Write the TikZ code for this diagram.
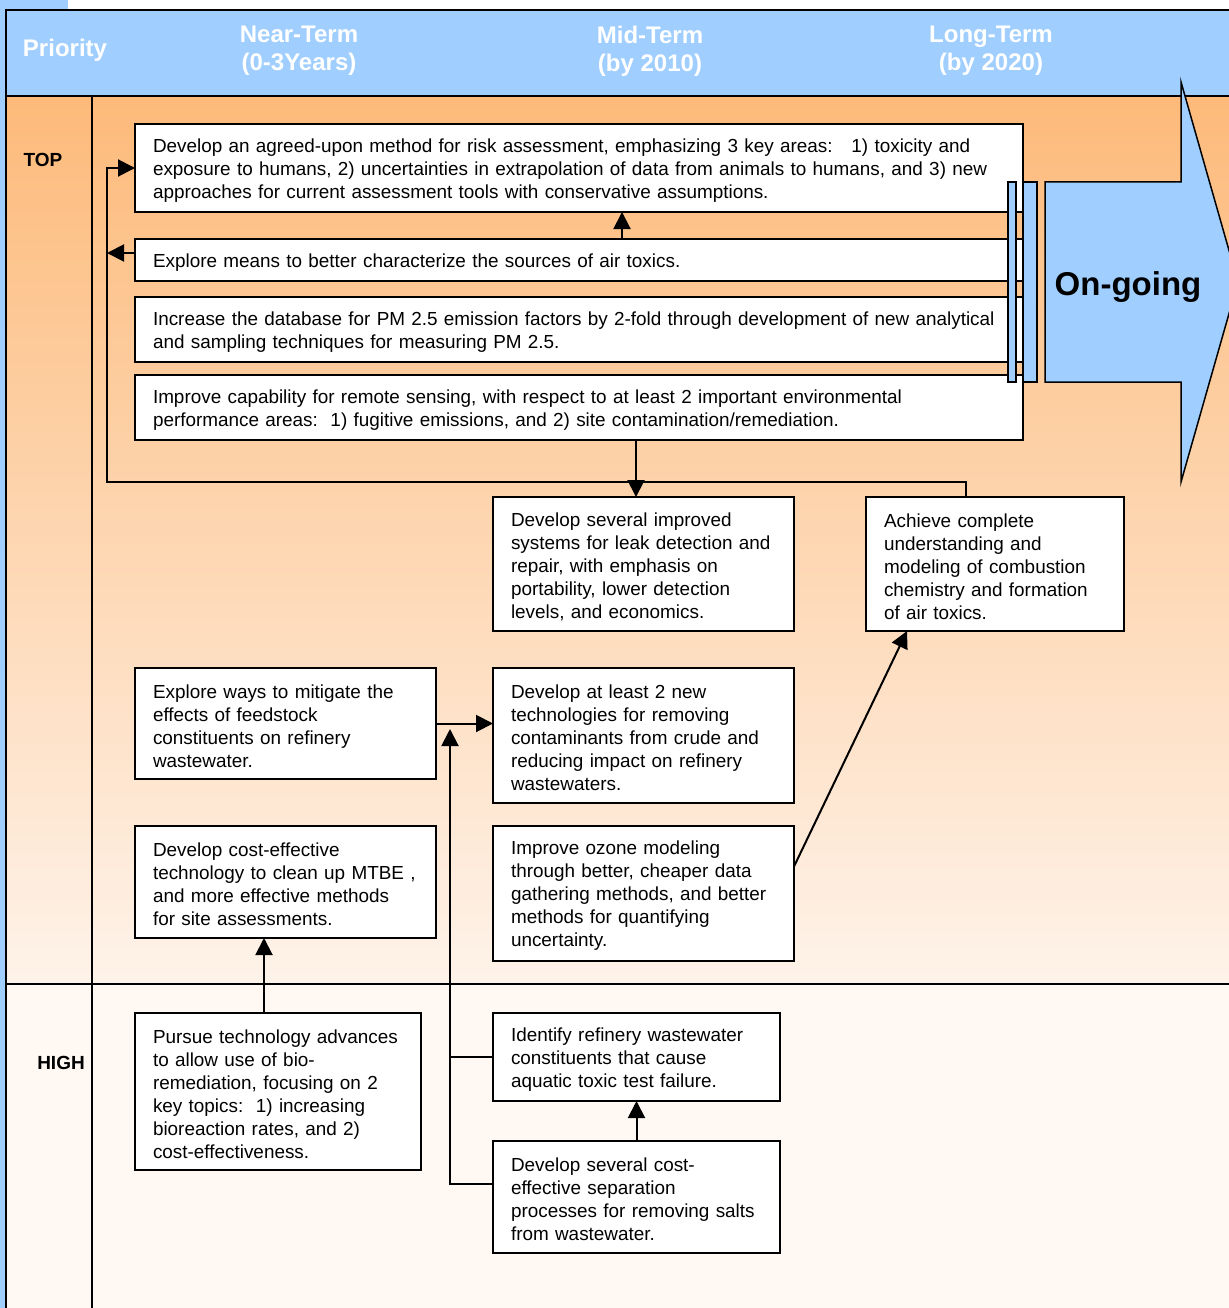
\documentclass[tikz,border=0pt]{standalone}
\usepackage{fontspec}
\setmainfont{Liberation Sans}
\usetikzlibrary{arrows.meta}
\definecolor{hdrblue}{RGB}{160,207,255}
\definecolor{toptop}{RGB}{253,186,122}
\definecolor{topbot}{RGB}{254,243,234}
\definecolor{highbg}{RGB}{255,248,243}
\begin{document}
\begin{tikzpicture}[x=1pt,y=-1pt,
    box/.style={draw,line width=2pt,fill=white,align=left,inner xsep=18pt,inner ysep=0pt,outer sep=0pt,font=\fontsize{18.9}{23}\selectfont,execute at begin node={\rule{0pt}{18.5pt}}},
    arr/.style={line width=2pt,-{Triangle[length=17pt,width=17pt]}},
    band/.style={line width=2pt},
    hdr/.style={text=white,align=center,font=\bfseries\fontsize{24}{28}\selectfont},
    prio/.style={font=\bfseries\fontsize{19}{23}\selectfont}]
\useasboundingbox (0,0) rectangle (1228,1308);
\fill[white] (0,0) rectangle (1228,1308);
\fill[hdrblue] (0,0) rectangle (68,10);
\fill[hdrblue] (0,0) rectangle (6,1308);
% bands
\draw[band,fill=hdrblue] (6,10) rectangle (1240,96);
\shade[top color=toptop,bottom color=topbot] (6,96) rectangle (1240,984);
\fill[highbg] (6,984) rectangle (1240,1310);
\draw[band] (6,96) -- (1240,96);
\draw[band] (6,984) -- (1240,984);
\draw[band] (6,10) -- (6,1310);
\draw[band] (92,96) -- (92,1310);
% header
\node[hdr] (prio) at (65,50) {Priority};
\node[hdr] (near) at (299,51) {Near-Term\\(0-3Years)};
\node[hdr] (mid) at (650,51) {Mid-Term\\(by 2010)};
\node[hdr] (long) at (991,51) {Long-Term\\(by 2020)};
\node[prio] (top) at (43,160) {TOP};
\node[prio] (high) at (61,1063) {HIGH};
% boxes
\node[box,text width=852pt,minimum height=88pt] (risk) at (579,168) {Develop an agreed-upon method for risk assessment, emphasizing 3 key areas:\ \ \ 1) toxicity and\\exposure to humans, 2) uncertainties in extrapolation of data from animals to humans, and 3) new\\approaches for current assessment tools with conservative assumptions.};
\node[box,text width=852pt,minimum height=42pt] (explore) at (579,260) {Explore means to better characterize the sources of air toxics.};
\node[box,text width=852pt,minimum height=65pt] (pm) at (579,329.5) {Increase the database for PM 2.5 emission factors by 2-fold through development of new analytical\\and sampling techniques for measuring PM 2.5.};
\node[box,text width=852pt,minimum height=65pt] (remote) at (579,407.5) {Improve capability for remote sensing, with respect to at least 2 important environmental\\performance areas:\ \ 1) fugitive emissions, and 2) site contamination/remediation.};
\node[box,text width=265pt,minimum height=134pt] (leak) at (643.5,564) {Develop several improved\\systems for leak detection and\\repair, with emphasis on\\portability, lower detection\\levels, and economics.};
\node[box,text width=222pt,minimum height=134pt] (achieve) at (995,564) {Achieve complete\\understanding and\\modeling of combustion\\chemistry and formation\\of air toxics.};
\node[box,text width=265pt,minimum height=111pt] (feed) at (285.5,723.5) {Explore ways to mitigate the\\effects of feedstock\\constituents on refinery\\wastewater.};
\node[box,text width=265pt,minimum height=135pt] (newtech) at (643.5,735.5) {Develop at least 2 new\\technologies for removing\\contaminants from crude and\\reducing impact on refinery\\wastewaters.};
\node[box,text width=265pt,minimum height=112pt] (mtbe) at (285.5,882) {Develop cost-effective\\technology to clean up MTBE ,\\and more effective methods\\for site assessments.};
\node[box,text width=265pt,minimum height=135pt] (ozone) at (643.5,893.5) {Improve ozone modeling\\through better, cheaper data\\gathering methods, and better\\methods for quantifying\\uncertainty.};
\node[box,text width=250pt,minimum height=157pt] (pursue) at (278,1091.5) {Pursue technology advances\\to allow use of bio-\\remediation, focusing on 2\\key topics:\ \ 1) increasing\\bioreaction rates, and 2)\\cost-effectiveness.};
\node[box,text width=251pt,minimum height=88pt] (ident) at (636.5,1057) {Identify refinery wastewater\\constituents that cause\\aquatic toxic test failure.};
\node[box,text width=251pt,minimum height=112pt] (sep) at (636.5,1197) {Develop several cost-\\effective separation\\processes for removing salts\\from wastewater.};
% connectors
\coordinate (loopL) at (107,482);
\coordinate (trunk) at (450,729);
\draw[arr] ([xshift=43pt]explore.north) -- ([xshift=43pt]risk.south);
\draw[arr] ([xshift=-29pt]achieve.north) |- (loopL) |- (risk.west);
\draw[arr] ([yshift=7pt]explore.west) -- ++(-28,0);
\draw[arr] ([xshift=57pt]remote.south) -- ([xshift=-7.5pt]leak.north);
\draw[arr] (feed.east) -- (feed.east -| newtech.west);
\draw[arr] ([yshift=13pt]sep.west) -| (trunk);
\draw[line width=2pt] (ident.west) -- (ident.west -| trunk);
\draw[arr] (sep.north) -- (ident.south);
\draw[arr] ([xshift=-14pt]pursue.north) -- ([xshift=-21.5pt]mtbe.south);
\draw[arr] ([yshift=27pt]ozone.east) -- ([xshift=-88pt]achieve.south);
% on-going arrow
\draw[line width=1.5pt,fill=hdrblue] (1008,182) rectangle (1016,382);
\draw[line width=1.5pt,fill=hdrblue] (1023,182) rectangle (1037,382);
\draw[line width=1.5pt,fill=hdrblue] (1045,182) -- (1181,182) -- (1181,82) -- (1238,282) -- (1181,482) -- (1181,382) -- (1045,382) -- cycle;
\node[font=\bfseries\fontsize{33}{36}\selectfont] (ongoing) at (1128,287) {On-going};
\end{tikzpicture}
\end{document}
